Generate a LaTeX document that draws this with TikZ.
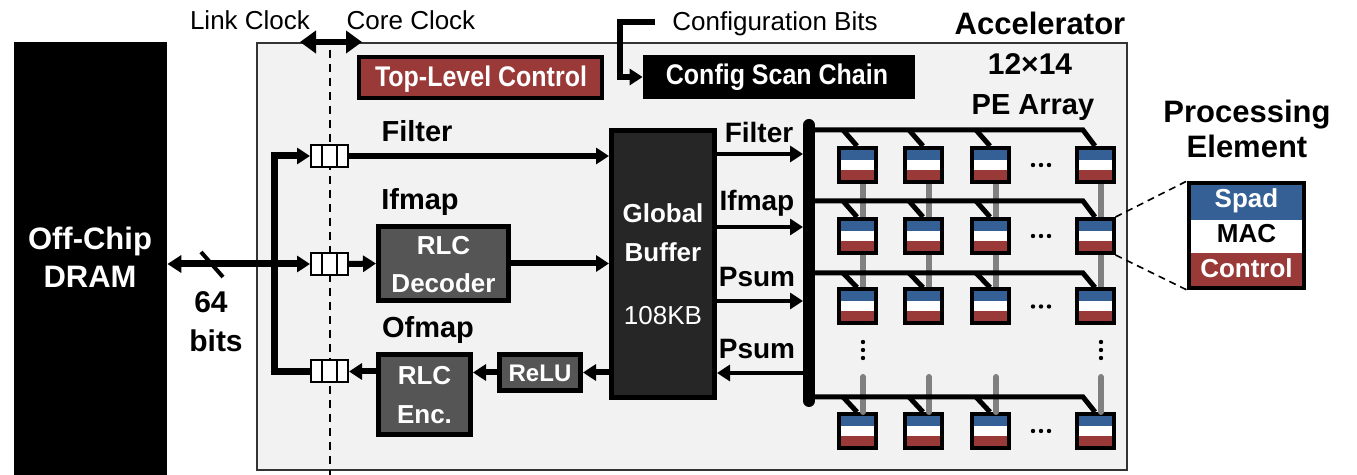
\documentclass[tikz,border=0pt]{standalone}
\usepackage{fontspec}
\setmainfont{Liberation Sans}
\newfontfamily\condsans{Liberation Sans}[FakeStretch=0.88]
\usetikzlibrary{arrows.meta}

\definecolor{accbg}{HTML}{F2F2F2}
\definecolor{pered}{RGB}{153,57,56}
\definecolor{peblue}{RGB}{53,96,150}
\definecolor{blockgray}{HTML}{555555}
\definecolor{gbfill}{HTML}{262626}
\definecolor{linkgray}{HTML}{808080}
\definecolor{framegray}{HTML}{333333}

\newcommand{\fsz}[1]{\fontsize{#1pt}{#1pt}\selectfont}

\begin{document}
\begin{tikzpicture}[x=0.5pt,y=-0.5pt,
  txt/.style={anchor=base,inner sep=0pt,font=\fsz{13}},
  btxt/.style={anchor=base,inner sep=0pt,font=\bfseries\fsz{14.5}},
  wtxt/.style={btxt,text=white},
  blk/.style={rectangle,draw=black,line width=2.5pt,inner sep=0pt},
  queue/.style={rectangle,draw=black,fill=white,line width=1pt,inner sep=0pt,
    minimum width=18.5pt,minimum height=11pt,
    path picture={
      \draw[line width=1pt] ([xshift=-3.6pt]path picture bounding box.north) -- ([xshift=-3.6pt]path picture bounding box.south);
      \draw[line width=1pt] ([xshift=3.6pt]path picture bounding box.north) -- ([xshift=3.6pt]path picture bounding box.south);}},
  pe/.style={rectangle,draw=black,line width=2pt,inner sep=0pt,
    minimum width=18.5pt,minimum height=17pt,
    path picture={
      \fill[peblue] ([xshift=-10pt,yshift=9pt]path picture bounding box.center) rectangle ([xshift=10pt,yshift=2.5pt]path picture bounding box.center);
      \fill[white] ([xshift=-10pt,yshift=2.5pt]path picture bounding box.center) rectangle ([xshift=10pt,yshift=-2.5pt]path picture bounding box.center);
      \fill[pered] ([xshift=-10pt,yshift=-2.5pt]path picture bounding box.center) rectangle ([xshift=10pt,yshift=-9pt]path picture bounding box.center);}},
  tip/.style={-{Triangle[length=6.5pt,width=8pt]}},
  thickline/.style={line width=3pt},
  rowline/.style={line width=2.5pt},
  vlink/.style={line width=3pt,draw=linkgray},
]
\useasboundingbox (0,0) rectangle (1357,475);

% accelerator frame and off-chip memory
\node[draw=framegray,fill=accbg,line width=1pt,inner sep=0pt,
      minimum width=435pt,minimum height=213.5pt] (acc) at (692,256.5) {};
\node[fill=black,inner sep=0pt,minimum width=76.5pt,minimum height=216.5pt] (dram) at (90.5,258.5) {};
\node[wtxt,font=\bfseries\fsz{15.5}] (dramA) at (90,250) {Off-Chip};
\node[wtxt,font=\bfseries\fsz{15.5}] (dramB) at (90,288) {DRAM};

% clock domain boundary
\coordinate (clkL) at (300,42);
\coordinate (clkR) at (362,42);
\coordinate (clkTop) at (330,50);
\coordinate (clkBot) at (330,475);
\draw[line width=1pt,dash pattern=on 4pt off 3pt] (clkTop) -- (clkBot);
\draw[line width=3pt,{Triangle[length=8pt,width=11pt]}-{Triangle[length=8pt,width=11pt]}] (clkL) -- (clkR);
\node[txt] (linkclk) at (250,30) {Link Clock};
\node[txt] (coreclk) at (411,30) {Core Clock};

% top row
\node[txt] (cfgbits) at (775,31) {Configuration Bits};
\node[btxt,font=\bfseries\fsz{15.5}] (acctitle) at (1040,35) {Accelerator};
\node[rectangle,draw=black,fill=pered,line width=2pt,inner sep=0pt,
      minimum width=121.5pt,minimum height=20.5pt] (tlc) at (480.5,77.5) {};
\node[wtxt,font=\condsans\bfseries\fsz{14.2}] (tlct) at (481,87) {Top-Level Control};
\node[rectangle,fill=black,inner sep=0pt,minimum width=136pt,minimum height=22pt] (csc) at (779,77) {};
\node[wtxt,font=\condsans\bfseries\fsz{14.2}] (csct) at (777,85) {Config Scan Chain};
\coordinate (cfgin) at (655,22);
\draw[thickline,tip] (cfgin) -- ++(-35,0) |- (csc.west);

\node[btxt,font=\bfseries\fsz{15}] (arrA) at (1030,75) {12×14};
\node[btxt] (arrB) at (1033,115) {PE Array};

% link-side FIFOs
\node[queue] (q1) at (329.5,156) {};
\node[queue] (q2) at (329.5,264) {};
\node[queue] (q3) at (329.5,371.5) {};

% data path blocks
\node[blk,fill=gbfill,minimum width=51.5pt,minimum height=133.5pt] (gb) at (663,264) {};
\node[wtxt,font=\bfseries\fsz{13}] (gbA) at (663,223) {Global};
\node[wtxt,font=\bfseries\fsz{13}] (gbB) at (663,262) {Buffer};
\node[txt,text=white] (gbC) at (663,325) {108KB};

\node[blk,fill=blockgray,minimum width=65pt,minimum height=37pt] (dec) at (443.5,263.5) {};
\node[wtxt,font=\bfseries\fsz{13}] (decA) at (443.5,255) {RLC};
\node[wtxt,font=\bfseries\fsz{13}] (decB) at (443.5,293) {Decoder};

\node[blk,fill=blockgray,minimum width=46pt,minimum height=40pt] (enc) at (424.5,394.5) {};
\node[wtxt,font=\bfseries\fsz{13}] (encA) at (424.5,385) {RLC};
\node[wtxt,font=\bfseries\fsz{13}] (encB) at (424.5,424) {Enc.};

\node[blk,fill=blockgray,minimum width=40.5pt,minimum height=18pt] (relu) at (540,372.5) {};
\node[wtxt,font=\bfseries\fsz{12}] (relut) at (540,382) {ReLU};

\node[btxt] (lfil) at (417,142) {Filter};
\node[btxt] (lifm) at (420,210) {Ifmap};
\node[btxt] (lofm) at (428,338) {Ofmap};

% DRAM link and distribution bus
\coordinate (busTopL) at (274,156);
\coordinate (busBotL) at (274,371.5);
\draw[line width=3.5pt,tip] (q3.west) -- (busBotL) -- (busTopL) -- (q1.west);
\draw[line width=3.5pt,{Triangle[length=7pt,width=8.5pt]}-{Triangle[length=6.5pt,width=8pt]}] (dram.east |- q2) -- (q2.west);
\coordinate (slA) at (201,252);
\coordinate (slB) at (223,277);
\draw[line width=2pt] (slA) -- (slB);
\node[btxt,font=\bfseries\fsz{15}] (bw1) at (211,313) {64};
\node[btxt,font=\bfseries\fsz{15}] (bw2) at (216,352) {bits};

\draw[thickline,tip] (q1.east) -- (q1.east -| gb.west);
\draw[thickline,tip] (q2.east) -- (dec.west);
\draw[thickline,tip] (dec.east) -- (dec.east -| gb.west);
\draw[thickline,tip] (gb.west |- relu) -- (relu.east);
\draw[thickline,tip] (relu.west) -- (relu.west -| enc.east);
\draw[thickline,tip] (enc.west |- q3) -- (q3.east);

% global buffer to PE array
\coordinate (busT) at (809,125);
\coordinate (busB) at (809,401);
\coordinate (inF) at (803,154);
\coordinate (inI) at (803,227);
\coordinate (inP) at (803,301);
\coordinate (outP) at (803,373);
\draw[line width=2pt,tip] (gb.east |- inF) -- (inF);
\draw[line width=2pt,tip] (gb.east |- inI) -- (inI);
\draw[line width=2pt,tip] (gb.east |- inP) -- (inP);
\draw[line width=2pt,tip] (outP) -- (gb.east |- outP);
\node[btxt,font=\bfseries\fsz{14}] (rfil) at (759,143) {Filter};
\node[btxt,font=\bfseries\fsz{14}] (rifm) at (757,211) {Ifmap};
\node[btxt,font=\bfseries\fsz{14}] (rps1) at (757,287) {Psum};
\node[btxt,font=\bfseries\fsz{14}] (rps2) at (757,359) {Psum};

% PE array
\foreach \r/\y in {1/165,2/236,3/306.5,4/431}
  \foreach \c/\x in {1/857,2/923,3/990,4/1095}
    \node[pe] (pe\r\c) at (\x,\y) {};

\foreach \c in {1,2,3,4} {
  \draw[vlink] ([xshift=3pt]pe1\c.south) -- ([xshift=3pt]pe2\c.north);
  \draw[vlink] ([xshift=3pt]pe2\c.south) -- ([xshift=3pt]pe3\c.north);
  \draw[vlink,line cap=round] ([xshift=3pt]pe4\c.north) -- ++(0,-35);
}

\foreach \r/\ry in {1/130,2/201,3/273,4/397} {
  \draw[rowline] (809,\ry) -- (1083,\ry) -- (pe\r4.north);
  \foreach \c/\x in {1/857,2/923,3/990}
    \draw[rowline] (\x-14,\ry) -- (pe\r\c.north);
}
\draw[line width=6pt,line cap=round] (busT) -- (busB);

\foreach \y in {165,236,306.5,431}
  \foreach \dx in {-8,0,8}
    \fill (1041+\dx,\y) circle (1.1pt);
\foreach \x in {863,1101}
  \foreach \dy in {-8,0,8}
    \fill (\x,350+\dy) circle (1.1pt);

% processing element detail
\node[btxt,font=\bfseries\fsz{15.5}] (petA) at (1247,123) {Processing};
\node[btxt,font=\bfseries\fsz{15.5}] (petB) at (1247,158) {Element};
\node[rectangle,draw=black,line width=2pt,inner sep=0pt,
      minimum width=57.5pt,minimum height=52.5pt,
      path picture={
        \fill[peblue] ([xshift=-30pt,yshift=28pt]path picture bounding box.center) rectangle ([xshift=30pt,yshift=7.75pt]path picture bounding box.center);
        \fill[pered] ([xshift=-30pt,yshift=-8.75pt]path picture bounding box.center) rectangle ([xshift=30pt,yshift=-28pt]path picture bounding box.center);}]
  (pedet) at (1246.5,235.5) {};
\node[wtxt,font=\bfseries\fsz{13}] (spad) at (1246.5,208) {Spad};
\node[btxt,font=\bfseries\fsz{13}] (mac) at (1246.5,243) {MAC};
\node[wtxt,font=\bfseries\fsz{13}] (ctrl) at (1246.5,278) {Control};
\draw[line width=0.8pt,dash pattern=on 3.5pt off 2.5pt] (pe24.north east) -- (pedet.north west);
\draw[line width=0.8pt,dash pattern=on 3.5pt off 2.5pt] (pe24.south east) -- (pedet.south west);
\end{tikzpicture}
\end{document}
